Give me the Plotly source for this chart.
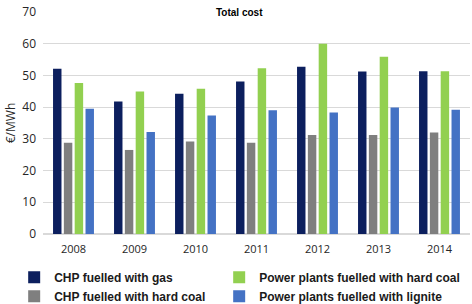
import plotly.graph_objects as go

years = ["2008", "2009", "2010", "2011", "2012", "2013", "2014"]
chp_gas = [52.1, 41.8, 44.2, 48.1, 52.7, 51.2, 51.3]
chp_hard_coal = [28.8, 26.5, 29.2, 28.8, 31.2, 31.2, 32.0]
pp_hard_coal = [47.6, 44.9, 45.8, 52.3, 60.0, 55.9, 51.3]
pp_lignite = [39.5, 32.2, 37.4, 39.0, 38.3, 39.9, 39.2]

series = [
    ("CHP fuelled with gas", chp_gas, "#0c1f5e", "legend"),
    ("CHP fuelled with hard coal", chp_hard_coal, "#7f7f7f", "legend"),
    ("Power plants fuelled with hard coal", pp_hard_coal, "#92d050", "legend2"),
    ("Power plants fuelled with lignite", pp_lignite, "#4472c4", "legend2"),
]

fig = go.Figure()
for name, vals, color, lg in series:
    fig.add_trace(go.Bar(x=years, y=vals, name=name, marker_color=color,
                         marker_line_width=0, legend=lg))

legend_font = dict(family="Liberation Sans, Arial, sans-serif", size=12,
                   color="#1a1a1a", weight="bold")
x1 = -0.0675
fig.update_layout(
    width=472, height=304,
    margin=dict(l=43, r=2, t=12, b=70, autoexpand=False),
    paper_bgcolor="white", plot_bgcolor="white",
    barmode="group", bargap=0.29, bargroupgap=0.22,
    font=dict(family="Open Sans, sans-serif", size=11, color="#262626"),
    showlegend=True,
    legend=dict(orientation="v", x=x1, xanchor="left", y=-0.13, yanchor="top",
                itemwidth=30, tracegroupgap=0, font=legend_font),
    legend2=dict(orientation="v", x=x1 + 205 / 427, xanchor="left", y=-0.13, yanchor="top",
                 itemwidth=30, tracegroupgap=0, font=legend_font),
    annotations=[dict(text="<b>Total cost</b>", xref="paper", yref="paper",
                      x=0.46, y=1.0, xanchor="center", yanchor="middle",
                      showarrow=False, bgcolor="white",
                      font=dict(family="Liberation Sans, Arial, sans-serif", size=10, color="#000"))],
)
fig.update_yaxes(range=[0, 70], dtick=10, showgrid=True, gridcolor="#d9d9d9",
                 zeroline=True, zerolinecolor="#d9d9d9", ticks="",
                 ticklabelstandoff=6,
                 tickfont=dict(size=12, color="#262626"),
                 title=dict(text="€/MWh", standoff=4, font=dict(size=12, color="#262626")))
fig.update_xaxes(showgrid=False, showline=False, ticks="", ticklabelstandoff=7,
                 tickfont=dict(size=11, color="#262626"))

fig.write_html("out.html", config={"displayModeBar": False},
               post_script="document.body.style.margin='0';")
